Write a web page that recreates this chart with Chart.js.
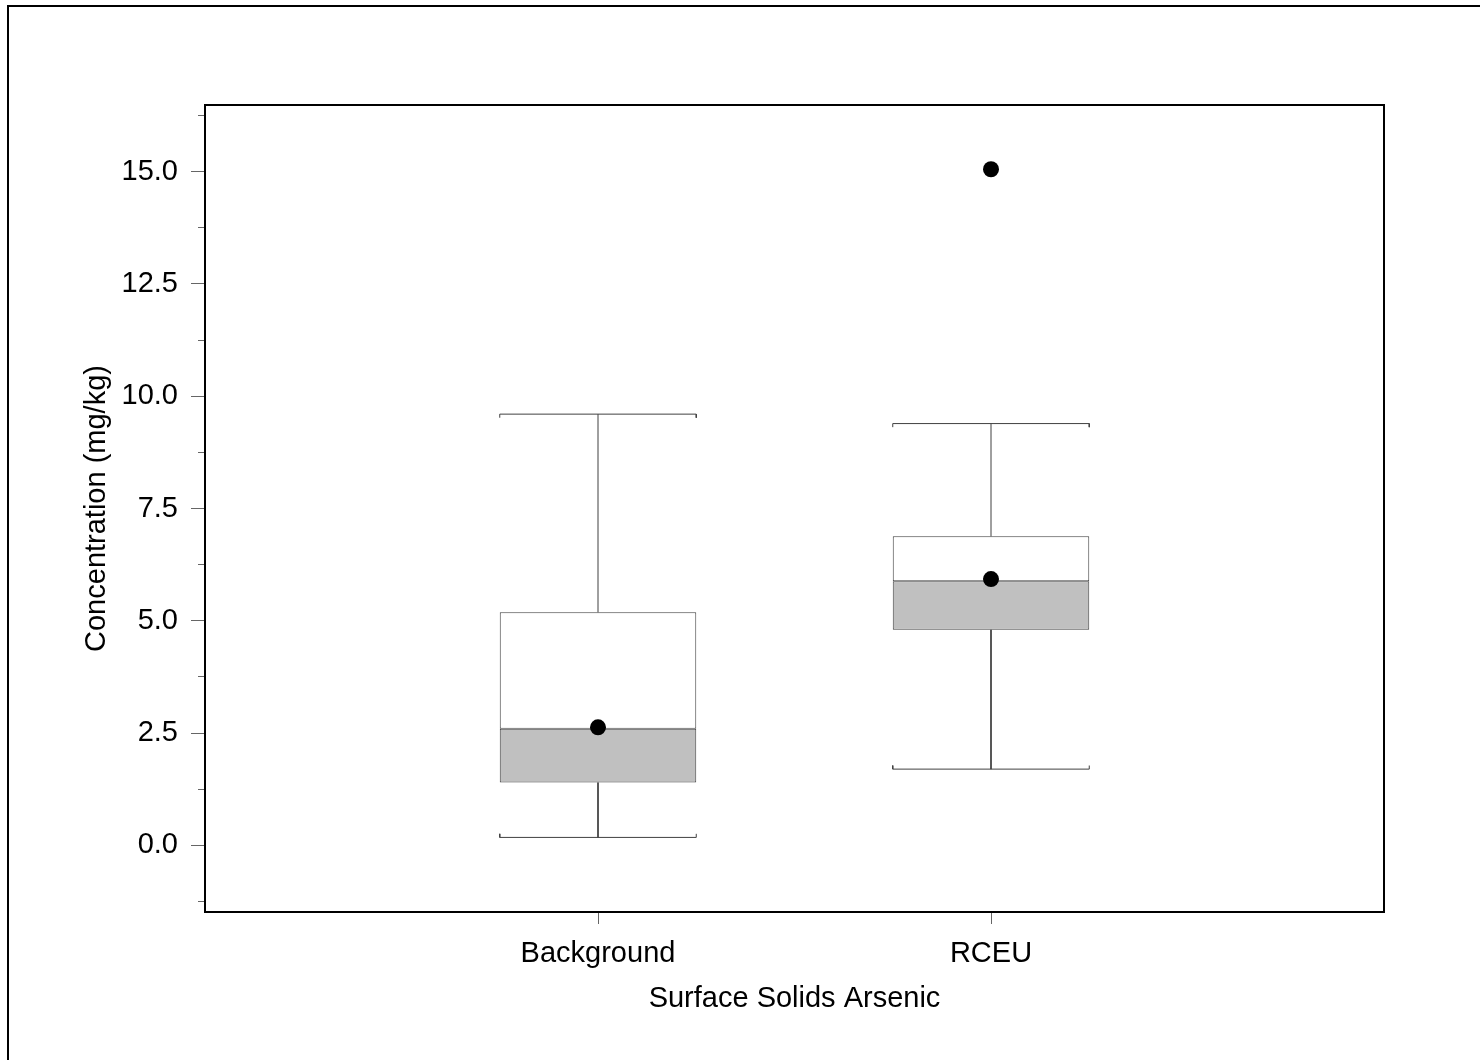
<!DOCTYPE html>
<html>
<head>
<meta charset="utf-8">
<title>Surface Solids Arsenic</title>
<script src="https://cdn.jsdelivr.net/npm/chart.js@4/dist/chart.umd.min.js"></script>
<style>
  html, body { margin: 0; padding: 0; background: #ffffff; }
  #wrap { width: 1480px; height: 1060px; }
</style>
</head>
<body>
<div id="wrap"><canvas id="c" width="1480" height="1060"></canvas></div>
<script>
// Box-plot summary per group (mg/kg)
const categories   = ['Background', 'RCEU'];
const whiskerLow   = [0.18, 1.70];
const quartile1    = [1.40, 4.80];
const medians      = [2.60, 5.88];
const quartile3    = [5.19, 6.88];
const whiskerHigh  = [9.60, 9.39];
const means        = [2.63, 5.93];
const outliers     = [[], [15.05]];

// Y axis ticks
const yMajorTicks  = [0, 2.5, 5, 7.5, 10, 12.5, 15];
const yTickLabels  = ['0.0', '2.5', '5.0', '7.5', '10.0', '12.5', '15.0'];
const yMinorTicks  = [-1.25, 1.25, 3.75, 6.25, 8.75, 11.25, 13.75, 16.25];

const FONT = 'Liberation Sans, Arial, Helvetica, sans-serif';
const FONT_SIZE = 29;
const LINE = '#404040';
const HALF = 0.25;       // half box width in x units
const SERIF = 0.08;      // cap end ticks in y units

const boxLower = categories.map((c, i) => ({ x: i + 1, y: [quartile1[i], medians[i]] }));
const boxUpper = categories.map((c, i) => ({ x: i + 1, y: [medians[i], quartile3[i]] }));

const lineStyle = {
  type: 'line', borderColor: LINE, borderWidth: 1, pointRadius: 0,
  fill: false, tension: 0, order: 3
};

const whiskerSets = [];
categories.forEach((c, i) => {
  const x = i + 1;
  whiskerSets.push({ ...lineStyle, data: [{ x, y: quartile3[i] }, { x, y: whiskerHigh[i] }] });
  whiskerSets.push({ ...lineStyle, data: [{ x, y: quartile1[i] }, { x, y: whiskerLow[i] }] });
  whiskerSets.push({ ...lineStyle, data: [
    { x: x - HALF, y: whiskerHigh[i] - SERIF }, { x: x - HALF, y: whiskerHigh[i] },
    { x: x + HALF, y: whiskerHigh[i] }, { x: x + HALF, y: whiskerHigh[i] - SERIF }
  ] });
  whiskerSets.push({ ...lineStyle, data: [
    { x: x - HALF, y: whiskerLow[i] + SERIF }, { x: x - HALF, y: whiskerLow[i] },
    { x: x + HALF, y: whiskerLow[i] }, { x: x + HALF, y: whiskerLow[i] + SERIF }
  ] });
});

const meanPoints = categories.map((c, i) => ({ x: i + 1, y: means[i] }));
const outlierPoints = [];
outliers.forEach((list, i) => list.forEach(v => outlierPoints.push({ x: i + 1, y: v })));

const dotStyle = {
  type: 'scatter', showLine: false, pointRadius: 8, pointHoverRadius: 8,
  backgroundColor: '#000000', borderColor: '#000000', borderWidth: 0, order: 0
};

const boxStyle = {
  type: 'bar', borderColor: LINE, borderWidth: 1, borderSkipped: false,
  grouped: false, categoryPercentage: 1.0, barPercentage: 0.5, order: 2
};

// page border and plot frame
const framePlugin = {
  id: 'frame',
  beforeDraw(chart) {
    const ctx = chart.ctx;
    ctx.save();
    ctx.fillStyle = '#ffffff';
    ctx.fillRect(0, 0, chart.width, chart.height);
    ctx.strokeStyle = '#000000';
    ctx.lineWidth = 2;
    ctx.beginPath();
    ctx.moveTo(8, chart.height);
    ctx.lineTo(8, 6);
    ctx.lineTo(chart.width, 6);
    ctx.stroke();
    ctx.restore();
  },
  afterDraw(chart) {
    const a = chart.chartArea;
    const ctx = chart.ctx;
    ctx.save();
    ctx.strokeStyle = '#000000';
    ctx.lineWidth = 2;
    ctx.strokeRect(a.left, a.top, a.right - a.left, a.bottom - a.top);
    ctx.restore();
  }
};

new Chart(document.getElementById('c'), {
  data: {
    datasets: [
      { ...dotStyle, data: meanPoints },
      { ...dotStyle, data: outlierPoints },
      { ...boxStyle, backgroundColor: '#c0c0c0', data: boxLower },
      { ...boxStyle, backgroundColor: '#ffffff', data: boxUpper },
      ...whiskerSets
    ]
  },
  options: {
    responsive: false,
    animation: false,
    devicePixelRatio: 1,
    layout: { padding: { left: 70, right: 96, top: 105, bottom: 0 } },
    plugins: { legend: { display: false }, tooltip: { enabled: false } },
    scales: {
      x: {
        type: 'linear', min: 0, max: categories.length + 1, offset: false,
        afterBuildTicks: s => { s.ticks = categories.map((c, i) => ({ value: i + 1 })); },
        afterFit: s => { s.height = 148; },
        ticks: {
          callback: v => categories[v - 1] ?? '',
          padding: 13, color: '#000000', autoSkip: false, maxRotation: 0,
          font: { family: FONT, size: FONT_SIZE }
        },
        grid: { offset: false, drawOnChartArea: false, tickLength: 12, tickColor: '#666666', tickWidth: 1 },
        border: { display: false },
        title: {
          display: true, text: 'Surface Solids Arsenic', color: '#000000',
          font: { family: FONT, size: FONT_SIZE }, padding: { top: 0, bottom: 44 }
        }
      },
      y: {
        type: 'linear', min: -1.48, max: 16.48,
        afterBuildTicks: s => {
          s.ticks = [...yMinorTicks, ...yMajorTicks].sort((a, b) => a - b).map(v => ({ value: v }));
        },
        afterFit: s => { s.width = 135; },
        ticks: {
          callback: v => { const k = yMajorTicks.indexOf(v); return k >= 0 ? yTickLabels[k] : ''; },
          padding: 13, color: '#000000', autoSkip: false,
          font: { family: FONT, size: FONT_SIZE }
        },
        grid: {
          drawOnChartArea: false, tickLength: 14, tickColor: '#666666', tickWidth: 1,
          tickBorderDash: ctx => (ctx.tick && yMajorTicks.includes(ctx.tick.value)) ? [] : [0, 7, 7, 0]
        },
        border: { display: false },
        title: {
          display: true, text: 'Concentration (mg/kg)', color: '#000000',
          font: { family: FONT, size: FONT_SIZE }, padding: { top: 10, bottom: 0 }
        }
      }
    }
  },
  plugins: [framePlugin]
});
</script>
</body>
</html>
